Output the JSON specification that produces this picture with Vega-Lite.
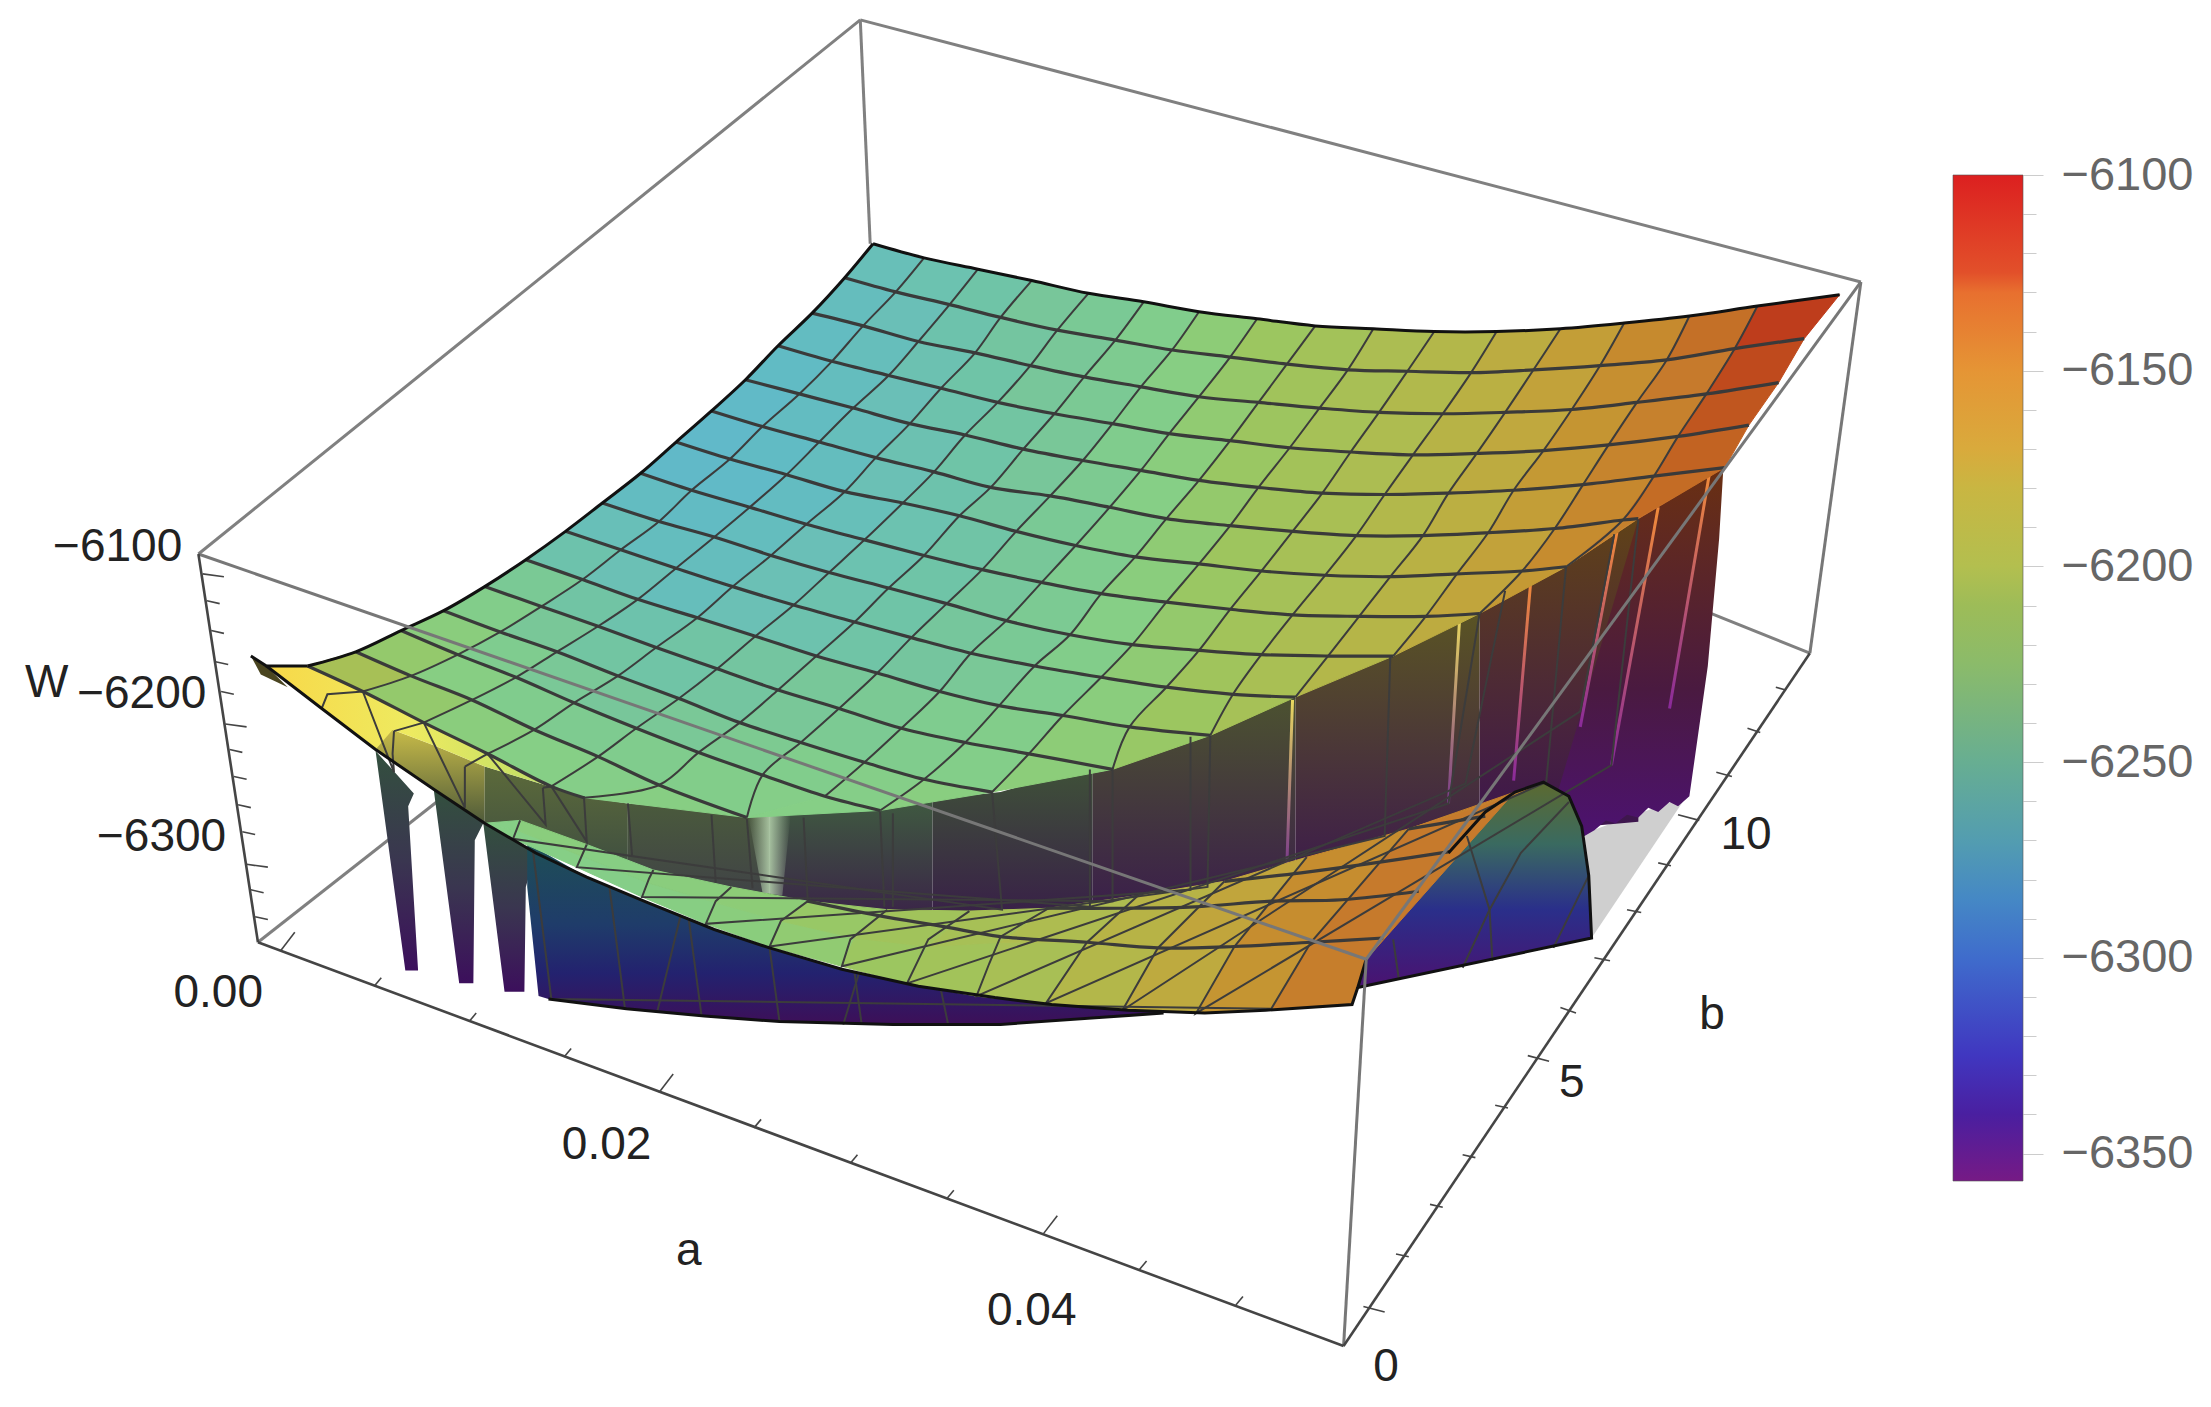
{
"$schema":"https://vega.github.io/schema/vega-lite/v6.json",
"description":"Surface W(a,b) read off the picture as projected positions, with a colour bar.",
"padding":0,
"background":"white",
"spacing":0,
"config":{"view":{"stroke":null},"text":{"font":"Liberation Sans"}},
"resolve":{"scale":{"fill":"independent","stroke":"independent"}},
"datasets":{
"top":[
{"id":0,"r":0,"c":0,"x":616,"y":172,"W":-6258,"q":[0,1,101,100]},{"id":1,"r":0,"c":1,"x":652,"y":182,"W":-6252,"q":[1,2,102,101]},{"id":2,"r":0,"c":2,"x":690,"y":190,"W":-6247,"q":[2,3,103,102]},{"id":3,"r":0,"c":3,"x":728,"y":198,"W":-6240,"q":[3,4,104,103]},{"id":4,"r":0,"c":4,"x":768,"y":207,"W":-6236,"q":[4,5,105,104]},{"id":5,"r":0,"c":5,"x":807,"y":213,"W":-6229,"q":[5,6,106,105]},{"id":6,"r":0,"c":6,"x":846,"y":220,"W":-6220,"q":[6,7,107,106]},{"id":7,"r":0,"c":7,"x":887,"y":225,"W":-6212,"q":[7,8,108,107]},{"id":8,"r":0,"c":8,"x":928,"y":230,"W":-6206,"q":[8,9,109,108]},{"id":9,"r":0,"c":9,"x":969,"y":232,"W":-6199,"q":[9,10,110,109]},{"id":10,"r":0,"c":10,"x":1012,"y":234,"W":-6192,"q":[10,11,111,110]},{"id":11,"r":0,"c":11,"x":1056,"y":234,"W":-6182,"q":[11,12,112,111]},{"id":12,"r":0,"c":12,"x":1101,"y":232,"W":-6171,"q":[12,13,113,112]},{"id":13,"r":0,"c":13,"x":1146,"y":228,"W":-6157,"q":[13,14,114,113]},{"id":14,"r":0,"c":14,"x":1192,"y":223,"W":-6140,"q":[14,15,115,114]},{"id":15,"r":0,"c":15,"x":1240,"y":216,"W":-6116,"q":[15,16,116,115]},{"id":16,"r":0,"c":16,"x":1298,"y":208,"q":[]},
{"id":100,"r":1,"c":0,"x":596,"y":196,"W":-6262,"q":[100,101,201,200]},{"id":101,"r":1,"c":1,"x":632,"y":206,"W":-6257,"q":[101,102,202,201]},{"id":102,"r":1,"c":2,"x":670,"y":215,"W":-6250,"q":[102,103,203,202]},{"id":103,"r":1,"c":3,"x":706,"y":224,"W":-6243,"q":[103,104,204,203]},{"id":104,"r":1,"c":4,"x":746,"y":233,"W":-6238,"q":[104,105,205,204]},{"id":105,"r":1,"c":5,"x":787,"y":240,"W":-6232,"q":[105,106,206,205]},{"id":106,"r":1,"c":6,"x":827,"y":247,"W":-6224,"q":[106,107,207,206]},{"id":107,"r":1,"c":7,"x":868,"y":252,"W":-6215,"q":[107,108,208,207]},{"id":108,"r":1,"c":8,"x":908,"y":257,"W":-6208,"q":[108,109,209,208]},{"id":109,"r":1,"c":9,"x":951,"y":261,"W":-6202,"q":[109,110,210,209]},{"id":110,"r":1,"c":10,"x":993,"y":262,"W":-6194,"q":[110,111,211,210]},{"id":111,"r":1,"c":11,"x":1038,"y":263,"W":-6185,"q":[111,112,212,211]},{"id":112,"r":1,"c":12,"x":1082,"y":261,"W":-6174,"q":[112,113,213,212]},{"id":113,"r":1,"c":13,"x":1129,"y":258,"W":-6161,"q":[113,114,214,213]},{"id":114,"r":1,"c":14,"x":1176,"y":254,"W":-6145,"q":[114,115,215,214]},{"id":115,"r":1,"c":15,"x":1224,"y":246,"W":-6122,"q":[115,116,216,215]},{"id":116,"r":1,"c":16,"x":1273,"y":239,"q":[]},
{"id":200,"r":2,"c":0,"x":573,"y":221,"W":-6265,"q":[200,201,301,300]},{"id":201,"r":2,"c":1,"x":609,"y":230,"W":-6260,"q":[201,202,302,301]},{"id":202,"r":2,"c":2,"x":648,"y":241,"W":-6253,"q":[202,203,303,302]},{"id":203,"r":2,"c":3,"x":688,"y":249,"W":-6247,"q":[203,204,304,303]},{"id":204,"r":2,"c":4,"x":727,"y":258,"W":-6240,"q":[204,205,305,304]},{"id":205,"r":2,"c":5,"x":765,"y":266,"W":-6235,"q":[205,206,306,305]},{"id":206,"r":2,"c":6,"x":805,"y":273,"W":-6228,"q":[206,207,307,306]},{"id":207,"r":2,"c":7,"x":846,"y":280,"W":-6218,"q":[207,208,308,307]},{"id":208,"r":2,"c":8,"x":888,"y":284,"W":-6211,"q":[208,209,309,308]},{"id":209,"r":2,"c":9,"x":931,"y":288,"W":-6204,"q":[209,210,310,309]},{"id":210,"r":2,"c":10,"x":973,"y":291,"W":-6197,"q":[210,211,311,310]},{"id":211,"r":2,"c":11,"x":1018,"y":292,"W":-6188,"q":[211,212,312,311]},{"id":212,"r":2,"c":12,"x":1062,"y":291,"W":-6178,"q":[212,213,313,312]},{"id":213,"r":2,"c":13,"x":1109,"y":289,"W":-6165,"q":[213,214,314,313]},{"id":214,"r":2,"c":14,"x":1155,"y":284,"W":-6150,"q":[214,215,315,314]},{"id":215,"r":2,"c":15,"x":1204,"y":278,"W":-6128,"q":[215,216,316,315]},{"id":216,"r":2,"c":16,"x":1255,"y":270,"q":[]},
{"id":300,"r":3,"c":0,"x":549,"y":244,"W":-6268,"q":[300,301,401,400]},{"id":301,"r":3,"c":1,"x":587,"y":255,"W":-6263,"q":[301,302,402,401]},{"id":302,"r":3,"c":2,"x":627,"y":265,"W":-6257,"q":[302,303,403,402]},{"id":303,"r":3,"c":3,"x":664,"y":274,"W":-6250,"q":[303,304,404,403]},{"id":304,"r":3,"c":4,"x":704,"y":284,"W":-6244,"q":[304,305,405,404]},{"id":305,"r":3,"c":5,"x":744,"y":292,"W":-6238,"q":[305,306,406,405]},{"id":306,"r":3,"c":6,"x":785,"y":299,"W":-6230,"q":[306,307,407,406]},{"id":307,"r":3,"c":7,"x":825,"y":306,"W":-6222,"q":[307,308,408,407]},{"id":308,"r":3,"c":8,"x":868,"y":311,"W":-6213,"q":[308,309,409,408]},{"id":309,"r":3,"c":9,"x":910,"y":316,"W":-6206,"q":[309,310,410,409]},{"id":310,"r":3,"c":10,"x":953,"y":319,"W":-6199,"q":[310,311,411,410]},{"id":311,"r":3,"c":11,"x":997,"y":321,"W":-6191,"q":[311,312,412,411]},{"id":312,"r":3,"c":12,"x":1042,"y":320,"W":-6181,"q":[312,313,413,412]},{"id":313,"r":3,"c":13,"x":1089,"y":318,"W":-6168,"q":[313,314,414,413]},{"id":314,"r":3,"c":14,"x":1135,"y":314,"W":-6153,"q":[314,315,415,414]},{"id":315,"r":3,"c":15,"x":1184,"y":308,"W":-6134,"q":[315,316,416,415]},{"id":316,"r":3,"c":16,"x":1234,"y":300,"q":[]},
{"id":400,"r":4,"c":0,"x":526,"y":268,"W":-6270,"q":[400,401,501,500]},{"id":401,"r":4,"c":1,"x":564,"y":278,"W":-6265,"q":[401,402,502,501]},{"id":402,"r":4,"c":2,"x":602,"y":288,"W":-6260,"q":[402,403,503,502]},{"id":403,"r":4,"c":3,"x":642,"y":299,"W":-6253,"q":[403,404,504,503]},{"id":404,"r":4,"c":4,"x":681,"y":307,"W":-6247,"q":[404,405,505,504]},{"id":405,"r":4,"c":5,"x":722,"y":317,"W":-6240,"q":[405,406,506,505]},{"id":406,"r":4,"c":6,"x":764,"y":325,"W":-6233,"q":[406,407,507,506]},{"id":407,"r":4,"c":7,"x":805,"y":332,"W":-6225,"q":[407,408,508,507]},{"id":408,"r":4,"c":8,"x":846,"y":339,"W":-6216,"q":[408,409,509,508]},{"id":409,"r":4,"c":9,"x":888,"y":344,"W":-6208,"q":[409,410,510,509]},{"id":410,"r":4,"c":10,"x":933,"y":348,"W":-6201,"q":[410,411,511,510]},{"id":411,"r":4,"c":11,"x":977,"y":349,"W":-6193,"q":[411,412,512,511]},{"id":412,"r":4,"c":12,"x":1022,"y":348,"W":-6184,"q":[412,413,513,512]},{"id":413,"r":4,"c":13,"x":1068,"y":346,"W":-6171,"q":[413,414,514,513]},{"id":414,"r":4,"c":14,"x":1117,"y":342,"W":-6156,"q":[414,415,515,514]},{"id":415,"r":4,"c":15,"x":1167,"y":336,"W":-6138,"q":[415,416,516,515]},{"id":416,"r":4,"c":16,"x":1217,"y":330,"q":[]},
{"id":500,"r":5,"c":0,"x":502,"y":290,"W":-6272,"q":[500,501,601,600]},{"id":501,"r":5,"c":1,"x":538,"y":301,"W":-6268,"q":[501,502,602,601]},{"id":502,"r":5,"c":2,"x":578,"y":312,"W":-6263,"q":[502,503,603,602]},{"id":503,"r":5,"c":3,"x":618,"y":323,"W":-6256,"q":[503,504,604,603]},{"id":504,"r":5,"c":4,"x":659,"y":333,"W":-6250,"q":[504,505,605,604]},{"id":505,"r":5,"c":5,"x":699,"y":344,"W":-6243,"q":[505,506,606,605]},{"id":506,"r":5,"c":6,"x":741,"y":350,"W":-6236,"q":[506,507,607,606]},{"id":507,"r":5,"c":7,"x":783,"y":358,"W":-6228,"q":[507,508,608,607]},{"id":508,"r":5,"c":8,"x":823,"y":366,"W":-6219,"q":[508,509,609,608]},{"id":509,"r":5,"c":9,"x":868,"y":371,"W":-6210,"q":[509,510,610,609]},{"id":510,"r":5,"c":10,"x":912,"y":375,"W":-6203,"q":[510,511,611,610]},{"id":511,"r":5,"c":11,"x":957,"y":378,"W":-6195,"q":[511,512,612,611]},{"id":512,"r":5,"c":12,"x":1004,"y":378,"W":-6186,"q":[512,513,613,612]},{"id":513,"r":5,"c":13,"x":1050,"y":376,"W":-6174,"q":[513,514,614,613]},{"id":514,"r":5,"c":14,"x":1097,"y":373,"W":-6159,"q":[514,515,615,614]},{"id":515,"r":5,"c":15,"x":1145,"y":367,"W":-6150,"q":[515,516,615]},{"id":516,"r":5,"c":16,"x":1156,"y":366,"q":[]},
{"id":600,"r":6,"c":0,"x":477,"y":312,"W":-6271,"q":[600,601,701,700]},{"id":601,"r":6,"c":1,"x":515,"y":324,"W":-6270,"q":[601,602,702,701]},{"id":602,"r":6,"c":2,"x":555,"y":335,"W":-6265,"q":[602,603,703,702]},{"id":603,"r":6,"c":3,"x":596,"y":347,"W":-6259,"q":[603,604,704,703]},{"id":604,"r":6,"c":4,"x":637,"y":355,"W":-6252,"q":[604,605,705,704]},{"id":605,"r":6,"c":5,"x":677,"y":364,"W":-6246,"q":[605,606,706,705]},{"id":606,"r":6,"c":6,"x":717,"y":375,"W":-6239,"q":[606,607,707,706]},{"id":607,"r":6,"c":7,"x":759,"y":385,"W":-6231,"q":[607,608,708,707]},{"id":608,"r":6,"c":8,"x":801,"y":393,"W":-6222,"q":[608,609,709,708]},{"id":609,"r":6,"c":9,"x":846,"y":398,"W":-6213,"q":[609,610,710,709]},{"id":610,"r":6,"c":10,"x":890,"y":403,"W":-6205,"q":[610,611,711,710]},{"id":611,"r":6,"c":11,"x":935,"y":406,"W":-6197,"q":[611,612,712,711]},{"id":612,"r":6,"c":12,"x":981,"y":407,"W":-6188,"q":[612,613,713,712]},{"id":613,"r":6,"c":13,"x":1028,"y":405,"W":-6176,"q":[613,614,714,713]},{"id":614,"r":6,"c":14,"x":1074,"y":403,"W":-6168,"q":[614,615,714]},{"id":615,"r":6,"c":15,"x":1105,"y":400,"q":[]},
{"id":700,"r":7,"c":0,"x":452,"y":334,"W":-6265,"q":[700,701,801,800]},{"id":701,"r":7,"c":1,"x":488,"y":346,"W":-6267,"q":[701,702,802,801]},{"id":702,"r":7,"c":2,"x":529,"y":358,"W":-6263,"q":[702,703,803,802]},{"id":703,"r":7,"c":3,"x":569,"y":370,"W":-6257,"q":[703,704,804,803]},{"id":704,"r":7,"c":4,"x":610,"y":381,"W":-6252,"q":[704,705,805,804]},{"id":705,"r":7,"c":5,"x":652,"y":392,"W":-6247,"q":[705,706,806,805]},{"id":706,"r":7,"c":6,"x":693,"y":402,"W":-6241,"q":[706,707,807,806]},{"id":707,"r":7,"c":7,"x":735,"y":411,"W":-6234,"q":[707,708,808,807]},{"id":708,"r":7,"c":8,"x":777,"y":419,"W":-6225,"q":[708,709,809,808]},{"id":709,"r":7,"c":9,"x":823,"y":425,"W":-6216,"q":[709,710,810,809]},{"id":710,"r":7,"c":10,"x":868,"y":430,"W":-6207,"q":[710,711,811,810]},{"id":711,"r":7,"c":11,"x":912,"y":434,"W":-6199,"q":[711,712,812,811]},{"id":712,"r":7,"c":12,"x":959,"y":435,"W":-6190,"q":[712,713,813,812]},{"id":713,"r":7,"c":13,"x":1006,"y":435,"W":-6181,"q":[713,714,813]},{"id":714,"r":7,"c":14,"x":1044,"y":433,"q":[]},
{"id":800,"r":8,"c":0,"x":425,"y":355,"W":-6258,"q":[800,801,901,900]},{"id":801,"r":8,"c":1,"x":465,"y":368,"W":-6263,"q":[801,802,902,901]},{"id":802,"r":8,"c":2,"x":504,"y":379,"W":-6262,"q":[802,803,903,902]},{"id":803,"r":8,"c":3,"x":544,"y":392,"W":-6256,"q":[803,804,904,903]},{"id":804,"r":8,"c":4,"x":585,"y":404,"W":-6251,"q":[804,805,905,904]},{"id":805,"r":8,"c":5,"x":627,"y":415,"W":-6247,"q":[805,806,906,905]},{"id":806,"r":8,"c":6,"x":668,"y":426,"W":-6241,"q":[806,807,907,906]},{"id":807,"r":8,"c":7,"x":710,"y":438,"W":-6236,"q":[807,808,908,907]},{"id":808,"r":8,"c":8,"x":755,"y":448,"W":-6228,"q":[808,809,909,908]},{"id":809,"r":8,"c":9,"x":799,"y":455,"W":-6219,"q":[809,810,910,909]},{"id":810,"r":8,"c":10,"x":846,"y":459,"W":-6209,"q":[810,811,911,910]},{"id":811,"r":8,"c":11,"x":890,"y":462,"W":-6201,"q":[811,812,912,911]},{"id":812,"r":8,"c":12,"x":937,"y":463,"W":-6192,"q":[812,813,912]},{"id":813,"r":8,"c":13,"x":983,"y":463,"q":[]},
{"id":900,"r":9,"c":0,"x":399,"y":375,"W":-6250,"q":[900,901,1001,1000]},{"id":901,"r":9,"c":1,"x":438,"y":388,"W":-6256,"q":[901,902,1002,1001]},{"id":902,"r":9,"c":2,"x":477,"y":401,"W":-6260,"q":[902,903,1003,1002]},{"id":903,"r":9,"c":3,"x":517,"y":414,"W":-6256,"q":[903,904,1004,1003]},{"id":904,"r":9,"c":4,"x":560,"y":427,"W":-6251,"q":[904,905,1005,1004]},{"id":905,"r":9,"c":5,"x":603,"y":439,"W":-6246,"q":[905,906,1006,1005]},{"id":906,"r":9,"c":6,"x":643,"y":450,"W":-6242,"q":[906,907,1007,1006]},{"id":907,"r":9,"c":7,"x":685,"y":461,"W":-6237,"q":[907,908,1008,1007]},{"id":908,"r":9,"c":8,"x":730,"y":470,"W":-6231,"q":[908,909,1009,1008]},{"id":909,"r":9,"c":9,"x":777,"y":478,"W":-6222,"q":[909,910,1010,1009]},{"id":910,"r":9,"c":10,"x":823,"y":485,"W":-6212,"q":[910,911,1011,1010]},{"id":911,"r":9,"c":11,"x":870,"y":490,"W":-6204,"q":[911,912,1011]},{"id":912,"r":9,"c":12,"x":914,"y":492,"q":[]},
{"id":1000,"r":10,"c":0,"x":371,"y":395,"W":-6236,"q":[1000,1001,1101,1100]},{"id":1001,"r":10,"c":1,"x":411,"y":409,"W":-6245,"q":[1001,1002,1102,1101]},{"id":1002,"r":10,"c":2,"x":450,"y":423,"W":-6250,"q":[1002,1003,1103,1102]},{"id":1003,"r":10,"c":3,"x":492,"y":436,"W":-6245,"q":[1003,1004,1104,1103]},{"id":1004,"r":10,"c":4,"x":533,"y":449,"W":-6243,"q":[1004,1005,1105,1104]},{"id":1005,"r":10,"c":5,"x":576,"y":463,"W":-6239,"q":[1005,1006,1106,1105]},{"id":1006,"r":10,"c":6,"x":619,"y":475,"W":-6235,"q":[1006,1007,1107,1106]},{"id":1007,"r":10,"c":7,"x":663,"y":488,"W":-6231,"q":[1007,1008,1108,1107]},{"id":1008,"r":10,"c":8,"x":705,"y":498,"W":-6228,"q":[1008,1009,1109,1108]},{"id":1009,"r":10,"c":9,"x":750,"y":505,"W":-6220,"q":[1009,1010,1110,1109]},{"id":1010,"r":10,"c":10,"x":797,"y":513,"W":-6214,"q":[1010,1011,1110]},{"id":1011,"r":10,"c":11,"x":854,"y":519,"q":[]},
{"id":1100,"r":11,"c":0,"x":342,"y":414,"W":-6228,"q":[1100,1101,1201,1200]},{"id":1101,"r":11,"c":1,"x":382,"y":428,"W":-6238,"q":[1101,1102,1202,1201]},{"id":1102,"r":11,"c":2,"x":422,"y":442,"W":-6244,"q":[1102,1103,1203,1202]},{"id":1103,"r":11,"c":3,"x":463,"y":457,"W":-6246,"q":[1103,1104,1204,1203]},{"id":1104,"r":11,"c":4,"x":506,"y":472,"W":-6243,"q":[1104,1105,1205,1204]},{"id":1105,"r":11,"c":5,"x":549,"y":487,"W":-6238,"q":[1105,1106,1206,1205]},{"id":1106,"r":11,"c":6,"x":592,"y":500,"W":-6234,"q":[1106,1107,1207,1206]},{"id":1107,"r":11,"c":7,"x":636,"y":514,"W":-6230,"q":[1107,1108,1208,1207]},{"id":1108,"r":11,"c":8,"x":681,"y":524,"W":-6227,"q":[1108,1109,1209,1208]},{"id":1109,"r":11,"c":9,"x":726,"y":532,"W":-6221,"q":[1109,1110,1209]},{"id":1110,"r":11,"c":10,"x":785,"y":543,"q":[]},
{"id":1200,"r":12,"c":0,"x":313,"y":431,"W":-6222,"q":[1200,1201,1301,1300]},{"id":1201,"r":12,"c":1,"x":353,"y":446,"W":-6231,"q":[1201,1202,1302,1301]},{"id":1202,"r":12,"c":2,"x":393,"y":460,"W":-6237,"q":[1202,1203,1303,1302]},{"id":1203,"r":12,"c":3,"x":436,"y":477,"W":-6240,"q":[1203,1204,1304,1303]},{"id":1204,"r":12,"c":4,"x":479,"y":493,"W":-6237,"q":[1204,1205,1305,1304]},{"id":1205,"r":12,"c":5,"x":522,"y":510,"W":-6233,"q":[1205,1206,1306,1305]},{"id":1206,"r":12,"c":6,"x":565,"y":524,"W":-6229,"q":[1206,1207,1307,1306]},{"id":1207,"r":12,"c":7,"x":610,"y":538,"W":-6226,"q":[1207,1208,1308,1307]},{"id":1208,"r":12,"c":8,"x":652,"y":550,"W":-6223,"q":[1208,1209,1308]},{"id":1209,"r":12,"c":9,"x":700,"y":559,"q":[]},
{"id":1300,"r":13,"c":0,"x":283,"y":445,"W":-6216,"q":[1300,1301,1401,1400]},{"id":1301,"r":13,"c":1,"x":323,"y":462,"W":-6224,"q":[1301,1302,1402,1401]},{"id":1302,"r":13,"c":2,"x":364,"y":478,"W":-6230,"q":[1302,1303,1403,1402]},{"id":1303,"r":13,"c":3,"x":405,"y":496,"W":-6232,"q":[1303,1304,1404,1403]},{"id":1304,"r":13,"c":4,"x":449,"y":514,"W":-6230,"q":[1304,1305,1405,1404]},{"id":1305,"r":13,"c":5,"x":493,"y":531,"W":-6228,"q":[1305,1306,1406,1405]},{"id":1306,"r":13,"c":6,"x":538,"y":547,"W":-6226,"q":[1306,1307,1406]},{"id":1307,"r":13,"c":7,"x":582,"y":562,"W":-6225,"q":[1307,1308,1406]},{"id":1308,"r":13,"c":8,"x":621,"y":572,"q":[]},
{"id":1400,"r":14,"c":0,"x":251,"y":460,"W":-6203,"q":[1400,1401,1501,1500]},{"id":1401,"r":14,"c":1,"x":290,"y":477,"W":-6216,"q":[1401,1402,1502,1501]},{"id":1402,"r":14,"c":2,"x":333,"y":494,"W":-6222,"q":[1402,1403,1503,1502]},{"id":1403,"r":14,"c":3,"x":377,"y":515,"W":-6225,"q":[1403,1404,1504,1503]},{"id":1404,"r":14,"c":4,"x":422,"y":534,"W":-6226,"q":[1404,1405,1505,1504]},{"id":1405,"r":14,"c":5,"x":465,"y":554,"W":-6224,"q":[1405,1406,1505]},{"id":1406,"r":14,"c":6,"x":527,"y":577,"q":[]},
{"id":1500,"r":15,"c":0,"x":217,"y":470,"q":[]},{"id":1501,"r":15,"c":1,"x":256,"y":488,"q":[]},{"id":1502,"r":15,"c":2,"x":299,"y":510,"q":[]},{"id":1503,"r":15,"c":3,"x":344,"y":532,"q":[]},{"id":1504,"r":15,"c":4,"x":389,"y":555,"q":[]},{"id":1505,"r":15,"c":5,"x":412,"y":563,"q":[]}
],
"lip":[
{"id":0,"x":342,"y":581,"W":-6225,"q":[0,1,101,100]},{"id":1,"x":362,"y":592,"W":-6225,"q":[1,2,102,101]},{"id":2,"x":407,"y":612,"W":-6226,"q":[2,3,103,102]},{"id":3,"x":453,"y":633,"W":-6224,"q":[3,4,104,103]},{"id":4,"x":498,"y":652,"W":-6222,"q":[4,5,105,104]},{"id":5,"x":543,"y":668,"W":-6218,"q":[5,6,106,105]},{"id":6,"x":594,"y":682,"W":-6212,"q":[6,7,107,106]},{"id":7,"x":640,"y":694,"W":-6207,"q":[7,8,108,107]},{"id":8,"x":689,"y":703,"W":-6202,"q":[8,9,109,108]},{"id":9,"x":738,"y":708,"W":-6192,"q":[9,10,110,109]},{"id":10,"x":792,"y":713,"W":-6180,"q":[10,11,111,110]},{"id":11,"x":844,"y":715,"W":-6165,"q":[11,12,112,111]},{"id":12,"x":897,"y":712,"W":-6148,"q":[12,13,113,112]},{"id":13,"x":954,"y":709,"q":[]},
{"id":100,"x":342,"y":581,"W":-6225,"q":[100,101,201,200]},{"id":101,"x":365,"y":586,"W":-6222,"q":[101,102,202,201]},{"id":102,"x":410,"y":604,"W":-6224,"q":[102,103,203,202]},{"id":103,"x":457,"y":623,"W":-6222,"q":[103,104,204,203]},{"id":104,"x":505,"y":637,"W":-6220,"q":[104,105,205,204]},{"id":105,"x":551,"y":650,"W":-6214,"q":[105,106,206,205]},{"id":106,"x":603,"y":662,"W":-6208,"q":[106,107,207,206]},{"id":107,"x":655,"y":668,"W":-6203,"q":[107,108,208,207]},{"id":108,"x":706,"y":665,"W":-6197,"q":[108,109,209,208]},{"id":109,"x":767,"y":665,"W":-6188,"q":[109,110,210,209]},{"id":110,"x":817,"y":669,"W":-6176,"q":[110,111,211,210]},{"id":111,"x":871,"y":668,"W":-6160,"q":[111,112,212,211]},{"id":112,"x":925,"y":665,"W":-6145,"q":[112,113,213,212]},{"id":113,"x":964,"y":677,"q":[]},
{"id":200,"x":342,"y":581,"q":[]},{"id":201,"x":367,"y":579,"q":[]},{"id":202,"x":414,"y":596,"q":[]},{"id":203,"x":461,"y":614,"q":[]},{"id":204,"x":516,"y":626,"q":[]},{"id":205,"x":570,"y":636,"q":[]},{"id":206,"x":626,"y":642,"q":[]},{"id":207,"x":684,"y":643,"q":[]},{"id":208,"x":740,"y":641,"q":[]},{"id":209,"x":803,"y":632,"q":[]},{"id":210,"x":864,"y":622,"q":[]},{"id":211,"x":922,"y":605,"q":[]},{"id":212,"x":994,"y":585,"q":[]},{"id":213,"x":1066,"y":562,"q":[]},
{"id":300,"x":1089,"y":552,"W":-6150,"q":[300,213,212]}
],
"parts":[
{"p":"floor","x":1118,"y":588},{"p":"floor","x":1190,"y":562},{"p":"floor","x":1123,"y":662},
{"p":"s1","x":266,"y":506},{"p":"s1","x":277,"y":515},{"p":"s1","x":306,"y":526},{"p":"s1","x":342,"y":541},{"p":"s1","x":342,"y":581},{"p":"s1","x":306,"y":557},{"p":"s1","x":265,"y":529},
{"p":"s2","x":342,"y":541},{"p":"s2","x":381,"y":553},{"p":"s2","x":410,"y":562},{"p":"s2","x":443,"y":567},{"p":"s2","x":443,"y":625},{"p":"s2","x":414,"y":610},{"p":"s2","x":367,"y":585},{"p":"s2","x":342,"y":581},
{"p":"s3","x":443,"y":567},{"p":"s3","x":504,"y":572},{"p":"s3","x":543,"y":574},{"p":"s3","x":543,"y":640},{"p":"s3","x":443,"y":625},
{"p":"s4","x":543,"y":574},{"p":"s4","x":619,"y":569},{"p":"s4","x":658,"y":564},{"p":"s4","x":658,"y":650},{"p":"s4","x":543,"y":640},
{"p":"s5","x":658,"y":564},{"p":"s5","x":706,"y":559},{"p":"s5","x":771,"y":540},{"p":"s5","x":771,"y":650},{"p":"s5","x":658,"y":650},
{"p":"s6","x":771,"y":540},{"p":"s6","x":846,"y":516},{"p":"s6","x":914,"y":492},{"p":"s6","x":914,"y":625},{"p":"s6","x":771,"y":650},
{"p":"s7","x":914,"y":492},{"p":"s7","x":985,"y":459},{"p":"s7","x":1044,"y":432},{"p":"s7","x":1044,"y":590},{"p":"s7","x":914,"y":625},
{"p":"s8","x":1044,"y":432},{"p":"s8","x":1105,"y":400},{"p":"s8","x":1156,"y":366},{"p":"s8","x":1156,"y":580},{"p":"s8","x":1044,"y":590},
{"p":"s9","x":1156,"y":366},{"p":"s9","x":1216,"y":330},{"p":"s9","x":1213,"y":380},{"p":"s9","x":1205,"y":470},{"p":"s9","x":1192,"y":562},{"p":"s9","x":1184,"y":569},{"p":"s9","x":1178,"y":566},{"p":"s9","x":1170,"y":573},{"p":"s9","x":1163,"y":570},{"p":"s9","x":1156,"y":577},{"p":"s9","x":1148,"y":575},{"p":"s9","x":1140,"y":581},{"p":"s9","x":1133,"y":579},{"p":"s9","x":1125,"y":586},{"p":"s9","x":1118,"y":590},{"p":"s9","x":1090,"y":590},
{"p":"pale","x":528,"y":576},{"p":"pale","x":558,"y":574},{"p":"pale","x":552,"y":632},{"p":"pale","x":538,"y":630},
{"p":"front","x":372,"y":595},{"p":"front","x":414,"y":619},{"p":"front","x":457,"y":637},{"p":"front","x":504,"y":656},{"p":"front","x":543,"y":669},{"p":"front","x":594,"y":684},{"p":"front","x":648,"y":696},{"p":"front","x":702,"y":704},{"p":"front","x":742,"y":709},{"p":"front","x":796,"y":713},{"p":"front","x":850,"y":715},{"p":"front","x":893,"y":713},{"p":"front","x":821,"y":715},{"p":"front","x":778,"y":718},{"p":"front","x":706,"y":723},{"p":"front","x":630,"y":723},{"p":"front","x":550,"y":721},{"p":"front","x":497,"y":717},{"p":"front","x":442,"y":712},{"p":"front","x":387,"y":705},{"p":"front","x":380,"y":703},{"p":"front","x":372,"y":626},
{"p":"fang1","x":265,"y":530},{"p":"fang1","x":292,"y":560},{"p":"fang1","x":288,"y":569},{"p":"fang1","x":295,"y":685},{"p":"fang1","x":286,"y":685},
{"p":"fang2","x":306,"y":557},{"p":"fang2","x":341,"y":581},{"p":"fang2","x":335,"y":593},{"p":"fang2","x":334,"y":694},{"p":"fang2","x":324,"y":694},
{"p":"fang3","x":341,"y":581},{"p":"fang3","x":378,"y":602},{"p":"fang3","x":371,"y":626},{"p":"fang3","x":370,"y":700},{"p":"fang3","x":356,"y":700},
{"p":"hill","x":964,"y":677},{"p":"hill","x":1022,"y":602},{"p":"hill","x":1048,"y":573},{"p":"hill","x":1069,"y":559},{"p":"hill","x":1089,"y":552},{"p":"hill","x":1107,"y":562},{"p":"hill","x":1116,"y":583},{"p":"hill","x":1121,"y":618},{"p":"hill","x":1123,"y":662},{"p":"hill","x":958,"y":697},
{"p":"tip","x":188,"y":470},{"p":"tip","x":217,"y":470},{"p":"tip","x":256,"y":488},{"p":"tip","x":299,"y":510},{"p":"tip","x":344,"y":532},{"p":"tip","x":389,"y":555},{"p":"tip","x":412,"y":563},{"p":"tip","x":381,"y":553},{"p":"tip","x":342,"y":541},{"p":"tip","x":306,"y":526},{"p":"tip","x":277,"y":515},{"p":"tip","x":265,"y":529},{"p":"tip","x":227,"y":500},
{"p":"notch","x":177,"y":463},{"p":"notch","x":188,"y":470},{"p":"notch","x":203,"y":485},{"p":"notch","x":184,"y":476}
],
"lines":[
{"g":"drop","k":1,"x":278,"y":516},{"g":"drop","k":1,"x":277,"y":532},{"g":"drop","k":1,"x":278,"y":545},
{"g":"drop","k":2,"x":328,"y":541},{"g":"drop","k":2,"x":328,"y":570},
{"g":"drop","k":3,"x":383,"y":556},{"g":"drop","k":3,"x":385,"y":582},
{"g":"drop","k":4,"x":412,"y":562},{"g":"drop","k":4,"x":414,"y":594},
{"g":"drop","k":5,"x":443,"y":567},{"g":"drop","k":5,"x":446,"y":604},
{"g":"drop","k":6,"x":502,"y":575},{"g":"drop","k":6,"x":505,"y":623},
{"g":"drop","k":7,"x":527,"y":578},{"g":"drop","k":7,"x":531,"y":627},
{"g":"drop","k":8,"x":567,"y":577},{"g":"drop","k":8,"x":570,"y":637},
{"g":"drop","k":9,"x":621,"y":573},{"g":"drop","k":9,"x":624,"y":640},
{"g":"drop","k":10,"x":630,"y":574},{"g":"drop","k":10,"x":630,"y":640},
{"g":"drop","k":11,"x":700,"y":559},{"g":"drop","k":11,"x":707,"y":642},
{"g":"drop","k":12,"x":769,"y":543},{"g":"drop","k":12,"x":769,"y":640},
{"g":"drop","k":13,"x":785,"y":542},{"g":"drop","k":13,"x":785,"y":636},
{"g":"drop","k":14,"x":840,"y":520},{"g":"drop","k":14,"x":840,"y":628},
{"g":"drop","k":15,"x":854,"y":519},{"g":"drop","k":15,"x":852,"y":626},
{"g":"drop","k":16,"x":981,"y":463},{"g":"drop","k":16,"x":977,"y":590},
{"g":"drop","k":17,"x":1044,"y":433},{"g":"drop","k":17,"x":1022,"y":567},
{"g":"drop","k":18,"x":1062,"y":417},{"g":"drop","k":18,"x":1034,"y":553},
{"g":"drop","k":19,"x":1105,"y":400},{"g":"drop","k":19,"x":1091,"y":552},
{"g":"drop","k":20,"x":1139,"y":377},{"g":"drop","k":20,"x":1115,"y":502},
{"g":"drop","k":21,"x":1156,"y":367},{"g":"drop","k":21,"x":1137,"y":540},
{"g":"drop","k":22,"x":376,"y":600},{"g":"drop","k":22,"x":389,"y":705},
{"g":"drop","k":23,"x":430,"y":626},{"g":"drop","k":23,"x":441,"y":712},
{"g":"drop","k":24,"x":480,"y":647},{"g":"drop","k":24,"x":464,"y":713},
{"g":"drop","k":25,"x":486,"y":649},{"g":"drop","k":25,"x":495,"y":717},
{"g":"drop","k":26,"x":543,"y":669},{"g":"drop","k":26,"x":550,"y":721},
{"g":"drop","k":27,"x":606,"y":687},{"g":"drop","k":27,"x":595,"y":723},
{"g":"drop","k":28,"x":603,"y":687},{"g":"drop","k":28,"x":608,"y":723},
{"g":"drop","k":29,"x":664,"y":699},{"g":"drop","k":29,"x":669,"y":723},
{"g":"drop","k":30,"x":1035,"y":590},{"g":"drop","k":30,"x":1051,"y":642},{"g":"drop","k":30,"x":1053,"y":678},
{"g":"drop","k":31,"x":1107,"y":566},{"g":"drop","k":31,"x":1073,"y":602},{"g":"drop","k":31,"x":1051,"y":642},{"g":"drop","k":31,"x":1032,"y":683},
{"g":"drop","k":32,"x":1121,"y":618},{"g":"drop","k":32,"x":1096,"y":669},
{"g":"drop","k":33,"x":983,"y":663},{"g":"drop","k":33,"x":987,"y":691},
{"g":"paleline","k":1,"x":912,"y":494},{"g":"paleline","k":1,"x":908,"y":610},
{"g":"paleline","k":2,"x":1030,"y":435},{"g":"paleline","k":2,"x":1022,"y":567},
{"g":"hotline","k":3,"x":1080,"y":411},{"g":"hotline","k":3,"x":1068,"y":551},
{"g":"hotline","k":4,"x":1141,"y":375},{"g":"hotline","k":4,"x":1115,"y":513},
{"g":"hotline","k":5,"x":1170,"y":358},{"g":"hotline","k":5,"x":1137,"y":540},
{"g":"hotline","k":6,"x":1206,"y":335},{"g":"hotline","k":6,"x":1178,"y":500},
{"g":"mesh","k":1,"x":256,"y":488},{"g":"mesh","k":1,"x":231,"y":490},{"g":"mesh","k":1,"x":227,"y":500},
{"g":"mesh","k":2,"x":299,"y":510},{"g":"mesh","k":2,"x":278,"y":516},
{"g":"mesh","k":3,"x":344,"y":532},{"g":"mesh","k":3,"x":328,"y":541},
{"g":"mesh","k":4,"x":389,"y":555},{"g":"mesh","k":4,"x":383,"y":556},
{"g":"mesh","k":11,"x":362,"y":592},{"g":"mesh","k":11,"x":367,"y":579},
{"g":"mesh","k":12,"x":407,"y":612},{"g":"mesh","k":12,"x":414,"y":596},
{"g":"mesh","k":13,"x":453,"y":633},{"g":"mesh","k":13,"x":458,"y":620},{"g":"mesh","k":13,"x":461,"y":614},
{"g":"mesh","k":14,"x":498,"y":652},{"g":"mesh","k":14,"x":505,"y":636},{"g":"mesh","k":14,"x":516,"y":626},
{"g":"mesh","k":15,"x":543,"y":668},{"g":"mesh","k":15,"x":551,"y":650},{"g":"mesh","k":15,"x":570,"y":636},
{"g":"mesh","k":16,"x":594,"y":682},{"g":"mesh","k":16,"x":600,"y":663},{"g":"mesh","k":16,"x":626,"y":642},
{"g":"mesh","k":17,"x":640,"y":694},{"g":"mesh","k":17,"x":655,"y":663},{"g":"mesh","k":17,"x":684,"y":643},
{"g":"mesh","k":18,"x":689,"y":703},{"g":"mesh","k":18,"x":698,"y":680},{"g":"mesh","k":18,"x":706,"y":661},{"g":"mesh","k":18,"x":740,"y":641},
{"g":"mesh","k":19,"x":738,"y":708},{"g":"mesh","k":19,"x":767,"y":665},{"g":"mesh","k":19,"x":803,"y":632},
{"g":"mesh","k":20,"x":792,"y":713},{"g":"mesh","k":20,"x":817,"y":669},{"g":"mesh","k":20,"x":864,"y":622},
{"g":"mesh","k":21,"x":844,"y":715},{"g":"mesh","k":21,"x":871,"y":668},{"g":"mesh","k":21,"x":922,"y":605},
{"g":"mesh","k":22,"x":897,"y":712},{"g":"mesh","k":22,"x":925,"y":665},{"g":"mesh","k":22,"x":994,"y":585},
{"g":"thick","k":1,"x":570,"y":636},{"g":"thick","k":1,"x":619,"y":646},{"g":"thick","k":1,"x":666,"y":654},{"g":"thick","k":1,"x":706,"y":661},{"g":"thick","k":1,"x":767,"y":665},{"g":"thick","k":1,"x":817,"y":669},{"g":"thick","k":1,"x":871,"y":668},{"g":"thick","k":1,"x":925,"y":665},{"g":"thick","k":1,"x":976,"y":662},
{"g":"thick","k":2,"x":738,"y":641},{"g":"thick","k":2,"x":792,"y":641},{"g":"thick","k":2,"x":843,"y":640},{"g":"thick","k":2,"x":897,"y":636},{"g":"thick","k":2,"x":947,"y":635},{"g":"thick","k":2,"x":1001,"y":629},
{"g":"thick","k":3,"x":864,"y":622},{"g":"thick","k":3,"x":918,"y":616},{"g":"thick","k":3,"x":970,"y":609},{"g":"thick","k":3,"x":1023,"y":601},
{"g":"thick","k":4,"x":994,"y":585},{"g":"thick","k":4,"x":1048,"y":576},
{"g":"black","k":1,"x":217,"y":470},{"g":"black","k":1,"x":188,"y":470},{"g":"black","k":1,"x":177,"y":463},
{"g":"black","k":2,"x":188,"y":470},{"g":"black","k":2,"x":227,"y":500},{"g":"black","k":2,"x":265,"y":529},{"g":"black","k":2,"x":306,"y":557},{"g":"black","k":2,"x":342,"y":581},{"g":"black","k":2,"x":378,"y":602},{"g":"black","k":2,"x":414,"y":619},{"g":"black","k":2,"x":457,"y":637},{"g":"black","k":2,"x":504,"y":656},{"g":"black","k":2,"x":543,"y":669},{"g":"black","k":2,"x":594,"y":684},{"g":"black","k":2,"x":648,"y":696},{"g":"black","k":2,"x":702,"y":704},{"g":"black","k":2,"x":742,"y":709},{"g":"black","k":2,"x":796,"y":713},{"g":"black","k":2,"x":850,"y":715},{"g":"black","k":2,"x":893,"y":713},{"g":"black","k":2,"x":954,"y":709},{"g":"black","k":2,"x":958,"y":697},{"g":"black","k":2,"x":964,"y":677},
{"g":"black","k":3,"x":1022,"y":602},{"g":"black","k":3,"x":1048,"y":573},{"g":"black","k":3,"x":1069,"y":559},{"g":"black","k":3,"x":1089,"y":552},{"g":"black","k":3,"x":1107,"y":562},{"g":"black","k":3,"x":1116,"y":583},{"g":"black","k":3,"x":1121,"y":618},{"g":"black","k":3,"x":1123,"y":662},{"g":"black","k":3,"x":958,"y":697},
{"g":"black","k":4,"x":387,"y":705},{"g":"black","k":4,"x":442,"y":712},{"g":"black","k":4,"x":497,"y":717},{"g":"black","k":4,"x":550,"y":721},{"g":"black","k":4,"x":630,"y":723},{"g":"black","k":4,"x":706,"y":723},{"g":"black","k":4,"x":778,"y":718},{"g":"black","k":4,"x":821,"y":715}
],
"box":[
{"k":"back","x":607,"y":14,"x2":140,"y2":391},{"k":"back","x":607,"y":14,"x2":1313,"y2":199},{"k":"back","x":607,"y":14,"x2":614,"y2":172},{"k":"back","x":182,"y":665,"x2":340,"y2":541},{"k":"back","x":1277,"y":461,"x2":1150,"y2":410},
{"k":"front","x":140,"y":391,"x2":964,"y2":677},{"k":"front","x":964,"y":677,"x2":1313,"y2":199},{"k":"front","x":964,"y":677,"x2":948,"y2":950},{"k":"front","x":1313,"y":199,"x2":1277,"y2":461},
{"k":"axis","x":140,"y":391,"x2":182,"y2":665},{"k":"axis","x":182,"y":665,"x2":948,"y2":950},{"k":"axis","x":948,"y":950,"x2":1277,"y2":461},
{"k":"tick","x":143,"y":405,"x2":158,"y2":407},{"k":"tick","x":146,"y":424,"x2":155,"y2":426},{"k":"tick","x":149,"y":445,"x2":158,"y2":447},{"k":"tick","x":152,"y":467,"x2":161,"y2":469},{"k":"tick","x":156,"y":488,"x2":165,"y2":490},{"k":"tick","x":159,"y":511,"x2":174,"y2":513},{"k":"tick","x":162,"y":529,"x2":171,"y2":531},{"k":"tick","x":165,"y":548,"x2":174,"y2":550},{"k":"tick","x":168,"y":568,"x2":177,"y2":570},{"k":"tick","x":171,"y":587,"x2":180,"y2":589},{"k":"tick","x":174,"y":610,"x2":189,"y2":612},{"k":"tick","x":177,"y":628,"x2":186,"y2":630},{"k":"tick","x":180,"y":647,"x2":189,"y2":649},
{"k":"tick","x":198,"y":671,"x2":208,"y2":658},{"k":"tick","x":264,"y":696,"x2":269,"y2":690},{"k":"tick","x":331,"y":721,"x2":336,"y2":715},{"k":"tick","x":398,"y":746,"x2":403,"y2":740},{"k":"tick","x":465,"y":771,"x2":475,"y2":758},{"k":"tick","x":532,"y":796,"x2":537,"y2":790},{"k":"tick","x":600,"y":821,"x2":605,"y2":815},{"k":"tick","x":668,"y":846,"x2":673,"y2":840},{"k":"tick","x":736,"y":871,"x2":746,"y2":858},{"k":"tick","x":804,"y":896,"x2":809,"y2":890},{"k":"tick","x":872,"y":921,"x2":877,"y2":915},
{"k":"tick","x":1253,"y":485,"x2":1260,"y2":487},{"k":"tick","x":1233,"y":514,"x2":1242,"y2":517},{"k":"tick","x":1211,"y":545,"x2":1222,"y2":548},{"k":"tick","x":1184,"y":575,"x2":1199,"y2":579},{"k":"tick","x":1170,"y":609,"x2":1179,"y2":611},{"k":"tick","x":1148,"y":642,"x2":1158,"y2":644},{"k":"tick","x":1125,"y":676,"x2":1136,"y2":678},{"k":"tick","x":1101,"y":711,"x2":1112,"y2":715},{"k":"tick","x":1078,"y":745,"x2":1093,"y2":749},{"k":"tick","x":1055,"y":780,"x2":1064,"y2":782},{"k":"tick","x":1032,"y":815,"x2":1041,"y2":817},{"k":"tick","x":1009,"y":850,"x2":1018,"y2":852},{"k":"tick","x":985,"y":885,"x2":994,"y2":887},{"k":"tick","x":962,"y":922,"x2":977,"y2":926}
],
"labels":[
{"t":"−6100","x":83,"y":386},{"t":"−6200","x":100,"y":490},{"t":"−6300","x":114,"y":591},{"t":"W","x":33,"y":482},{"t":"0.00","x":154,"y":701},{"t":"0.02","x":428,"y":808},{"t":"0.04","x":728,"y":925},{"t":"a","x":486,"y":883},{"t":"b","x":1208,"y":716},{"t":"0","x":978,"y":965},{"t":"5","x":1109,"y":764},{"t":"10","x":1232,"y":589}
],
"bar":[{"W":-6357,"W2":-6100}]
},
"hconcat":[
{
"width":1952,
"height":1407,
"encoding":{
"x":{"field":"x","type":"quantitative","axis":null,"scale":{"domain":[0,1377.3],"nice":false,"zero":false}},
"y":{"field":"y","type":"quantitative","axis":null,"scale":{"domain":[993,0],"nice":false,"zero":false}}
},
"layer":[
{"data":{"name":"box"},"transform":[{"filter":"datum.k=='back'"}],"mark":{"type":"rule","color":"#808080","strokeWidth":3},"encoding":{"x2":{"field":"x2"},"y2":{"field":"y2"}}},
{"data":{"name":"parts"},"transform":[{"filter":"datum.p=='floor'"}],"mark":{"type":"line","order":null,"interpolate":"linear-closed","stroke":null,"fill":"#cfcfcf"},"encoding":{}},
{"data":{"name":"parts"},"transform":[{"filter":"datum.p=='s1'"}],"mark":{"type":"line","order":null,"interpolate":"linear-closed","stroke":null,"fill":{"gradient":"linear","x1":0,"y1":0,"x2":0,"y2":1,"stops":[{"offset":0,"color":"#d8c84a"},{"offset":1,"color":"#4e5a3a"}]}},"encoding":{}},
{"data":{"name":"parts"},"transform":[{"filter":"datum.p=='s2'"}],"mark":{"type":"line","order":null,"interpolate":"linear-closed","stroke":null,"fill":{"gradient":"linear","x1":0,"y1":0,"x2":0,"y2":1,"stops":[{"offset":0,"color":"#5c6a3a"},{"offset":1,"color":"#3a4a42"}]}},"encoding":{}},
{"data":{"name":"parts"},"transform":[{"filter":"datum.p=='s3'"}],"mark":{"type":"line","order":null,"interpolate":"linear-closed","stroke":null,"fill":{"gradient":"linear","x1":0,"y1":0,"x2":0,"y2":1,"stops":[{"offset":0,"color":"#4a5a3c"},{"offset":1,"color":"#3f4048"}]}},"encoding":{}},
{"data":{"name":"parts"},"transform":[{"filter":"datum.p=='s4'"}],"mark":{"type":"line","order":null,"interpolate":"linear-closed","stroke":null,"fill":{"gradient":"linear","x1":0,"y1":0,"x2":0,"y2":1,"stops":[{"offset":0,"color":"#3f5a40"},{"offset":1,"color":"#3a2248"}]}},"encoding":{}},
{"data":{"name":"parts"},"transform":[{"filter":"datum.p=='s5'"}],"mark":{"type":"line","order":null,"interpolate":"linear-closed","stroke":null,"fill":{"gradient":"linear","x1":0,"y1":0,"x2":0,"y2":1,"stops":[{"offset":0,"color":"#3f5238"},{"offset":1,"color":"#381e48"}]}},"encoding":{}},
{"data":{"name":"parts"},"transform":[{"filter":"datum.p=='s6'"}],"mark":{"type":"line","order":null,"interpolate":"linear-closed","stroke":null,"fill":{"gradient":"linear","x1":0,"y1":0,"x2":0,"y2":1,"stops":[{"offset":0,"color":"#4c5230"},{"offset":1,"color":"#3a1c4c"}]}},"encoding":{}},
{"data":{"name":"parts"},"transform":[{"filter":"datum.p=='s7'"}],"mark":{"type":"line","order":null,"interpolate":"linear-closed","stroke":null,"fill":{"gradient":"linear","x1":0,"y1":0,"x2":0,"y2":1,"stops":[{"offset":0,"color":"#5a5424"},{"offset":1,"color":"#3c1a4c"}]}},"encoding":{}},
{"data":{"name":"parts"},"transform":[{"filter":"datum.p=='s8'"}],"mark":{"type":"line","order":null,"interpolate":"linear-closed","stroke":null,"fill":{"gradient":"linear","x1":0,"y1":0,"x2":0,"y2":1,"stops":[{"offset":0,"color":"#604218"},{"offset":1,"color":"#3c1450"}]}},"encoding":{}},
{"data":{"name":"parts"},"transform":[{"filter":"datum.p=='s9'"}],"mark":{"type":"line","order":null,"interpolate":"linear-closed","stroke":null,"fill":{"gradient":"linear","x1":0,"y1":0,"x2":0,"y2":1,"stops":[{"offset":0,"color":"#6a3012"},{"offset":0.6,"color":"#4a1a40"},{"offset":1,"color":"#4c1270"}]}},"encoding":{}},
{"data":{"name":"parts"},"transform":[{"filter":"datum.p=='pale'"}],"mark":{"type":"line","order":null,"interpolate":"linear-closed","stroke":null,"fill":{"gradient":"linear","x1":0,"y1":0,"x2":1,"y2":0,"stops":[{"offset":0,"color":"rgba(176,204,168,0)"},{"offset":0.5,"color":"rgba(176,204,168,0.9)"},{"offset":1,"color":"rgba(176,204,168,0)"}]}},"encoding":{}},
{"data":{"name":"lines"},"transform":[{"filter":"datum.g=='paleline'"}],"mark":{"type":"line","order":null,"strokeWidth":3,"stroke":{"gradient":"linear","x1":0,"y1":0,"x2":0,"y2":1,"stops":[{"offset":0,"color":"#e8d860"},{"offset":1,"color":"#7a3a8a"}]}},"encoding":{"detail":{"field":"k","type":"nominal"}}},
{"data":{"name":"lines"},"transform":[{"filter":"datum.g=='hotline'"}],"mark":{"type":"line","order":null,"strokeWidth":3,"stroke":{"gradient":"linear","x1":0,"y1":0,"x2":0,"y2":1,"stops":[{"offset":0,"color":"#f08a3a"},{"offset":1,"color":"#8a2a9a"}]}},"encoding":{"detail":{"field":"k","type":"nominal"}}},
{"data":{"name":"top"},"transform":[{"flatten":["q"]},{"lookup":"q","from":{"data":{"name":"top"},"key":"id","fields":["x","y"]},"as":["x","y"]}],"mark":{"type":"line","order":null,"interpolate":"linear-closed","strokeWidth":1},"encoding":{"detail":{"field":"id","type":"nominal"},"fill":{"field":"W","type":"quantitative","legend":null,"scale":{"domain":[-6350,-6300,-6275,-6255,-6240,-6225,-6212,-6197,-6178,-6162,-6145,-6128,-6110,-6100],"range":["#4a1678","#3f6ccc","#62b7cc","#6cc0b4","#78c69a","#86cf86","#9cc660","#aebc50","#c0a83e","#c69030","#c67a2c","#c0561f","#bc2d1c","#b81c18"]}},"stroke":{"field":"W","type":"quantitative","legend":null,"scale":{"domain":[-6350,-6300,-6275,-6255,-6240,-6225,-6212,-6197,-6178,-6162,-6145,-6128,-6110,-6100],"range":["#4a1678","#3f6ccc","#62b7cc","#6cc0b4","#78c69a","#86cf86","#9cc660","#aebc50","#c0a83e","#c69030","#c67a2c","#c0561f","#bc2d1c","#b81c18"]}}}},
{"data":{"name":"parts"},"transform":[{"filter":"datum.p=='notch'"}],"mark":{"type":"line","order":null,"interpolate":"linear-closed","stroke":null,"fill":"#4a4520"},"encoding":{}},
{"data":{"name":"parts"},"transform":[{"filter":"datum.p=='tip'"}],"mark":{"type":"line","order":null,"interpolate":"linear-closed","stroke":null,"fill":{"gradient":"linear","x1":0,"y1":0,"x2":1,"y2":0,"stops":[{"offset":0,"color":"#f8d848"},{"offset":0.45,"color":"#eeea60"},{"offset":1,"color":"#b4dc68"}]}},"encoding":{}},
{"data":{"name":"parts"},"transform":[{"filter":"test(/^fang/,datum.p)"}],"mark":{"type":"line","order":null,"interpolate":"linear-closed","stroke":null,"fill":{"gradient":"linear","x1":0,"y1":0,"x2":0,"y2":1,"stops":[{"offset":0,"color":"#33503e"},{"offset":0.5,"color":"#3a3650"},{"offset":1,"color":"#3c0f5c"}]}},"encoding":{"detail":{"field":"p","type":"nominal"}}},
{"data":{"name":"parts"},"transform":[{"filter":"datum.p=='front'"}],"mark":{"type":"line","order":null,"interpolate":"linear-closed","stroke":null,"fill":{"gradient":"linear","x1":0,"y1":0,"x2":0,"y2":1,"stops":[{"offset":0,"color":"#1e4f55"},{"offset":0.45,"color":"#1f3c6a"},{"offset":0.72,"color":"#23226f"},{"offset":1,"color":"#3d0f58"}]}},"encoding":{}},
{"data":{"name":"parts"},"transform":[{"filter":"datum.p=='hill'"}],"mark":{"type":"line","order":null,"interpolate":"linear-closed","stroke":null,"fill":{"gradient":"linear","x1":0,"y1":0,"x2":0,"y2":1,"stops":[{"offset":0,"color":"#5c6a30"},{"offset":0.3,"color":"#3a6a60"},{"offset":0.62,"color":"#2a2f8a"},{"offset":1,"color":"#4a1270"}]}},"encoding":{}},
{"data":{"name":"lip"},"transform":[{"flatten":["q"]},{"lookup":"q","from":{"data":{"name":"lip"},"key":"id","fields":["x","y"]},"as":["x","y"]}],"mark":{"type":"line","order":null,"interpolate":"linear-closed","strokeWidth":1},"encoding":{"detail":{"field":"id","type":"nominal"},"fill":{"field":"W","type":"quantitative","legend":null},"stroke":{"field":"W","type":"quantitative","legend":null}}},
{"data":{"name":"lines"},"transform":[{"filter":"datum.g=='drop'||datum.g=='mesh'"}],"mark":{"type":"line","order":null,"color":"#3c3c3c","strokeWidth":2},"encoding":{"detail":{"field":"k","type":"nominal"}}},
{"data":{"name":"top"},"transform":[{"filter":"datum.c>=1&&datum.c<=15"}],"mark":{"type":"line","order":null,"interpolate":"catmull-rom","color":"#3c3c3c","strokeWidth":2},"encoding":{"detail":{"field":"c","type":"nominal"}}},
{"data":{"name":"top"},"transform":[{"filter":"datum.r>=1"}],"mark":{"type":"line","order":null,"interpolate":"catmull-rom","color":"#3a3a3a","strokeWidth":3.2},"encoding":{"detail":{"field":"r","type":"nominal"}}},
{"data":{"name":"lines"},"transform":[{"filter":"datum.g=='thick'"}],"mark":{"type":"line","order":null,"interpolate":"catmull-rom","color":"#3a3a3a","strokeWidth":3.2},"encoding":{"detail":{"field":"k","type":"nominal"}}},
{"data":{"name":"top"},"transform":[{"filter":"datum.r==0"}],"mark":{"type":"line","order":null,"interpolate":"catmull-rom","color":"#111111","strokeWidth":3},"encoding":{}},
{"data":{"name":"top"},"transform":[{"filter":"datum.c==0"}],"mark":{"type":"line","order":null,"interpolate":"catmull-rom","color":"#111111","strokeWidth":3},"encoding":{}},
{"data":{"name":"lines"},"transform":[{"filter":"datum.g=='black'"}],"mark":{"type":"line","order":null,"color":"#111111","strokeWidth":3},"encoding":{"detail":{"field":"k","type":"nominal"}}},
{"data":{"name":"box"},"transform":[{"filter":"datum.k=='front'"}],"mark":{"type":"rule","color":"#777777","strokeWidth":3},"encoding":{"x2":{"field":"x2"},"y2":{"field":"y2"}}},
{"data":{"name":"box"},"transform":[{"filter":"datum.k=='axis'"}],"mark":{"type":"rule","color":"#454545","strokeWidth":2.6},"encoding":{"x2":{"field":"x2"},"y2":{"field":"y2"}}},
{"data":{"name":"box"},"transform":[{"filter":"datum.k=='tick'"}],"mark":{"type":"rule","color":"#454545","strokeWidth":1.6},"encoding":{"x2":{"field":"x2"},"y2":{"field":"y2"}}},
{"data":{"name":"labels"},"mark":{"type":"text","fontSize":46,"font":"Liberation Sans","color":"#222222","align":"center","baseline":"middle"},"encoding":{"text":{"field":"t","type":"nominal"}}}
]
},
{
"width":70,
"height":1407,
"data":{"name":"bar"},
"mark":{"type":"rect","stroke":"#555555","strokeWidth":1,"strokeOpacity":0.6,"fill":{"gradient":"linear","x1":0,"y1":0,"x2":0,"y2":1,"stops":[{"offset":0,"color":"#dc2020"},{"offset":0.097,"color":"#e2502a"},{"offset":0.117,"color":"#e8702f"},{"offset":0.195,"color":"#e59535"},{"offset":0.272,"color":"#d9aa3c"},{"offset":0.311,"color":"#c9b642"},{"offset":0.389,"color":"#b3bf4f"},{"offset":0.428,"color":"#9dbc58"},{"offset":0.486,"color":"#8bbb6a"},{"offset":0.584,"color":"#67ae92"},{"offset":0.661,"color":"#539db0"},{"offset":0.72,"color":"#4588c5"},{"offset":0.778,"color":"#3f6ccc"},{"offset":0.875,"color":"#4037c0"},{"offset":0.934,"color":"#4a1fa0"},{"offset":1,"color":"#761a85"}]}},
"encoding":{
"y":{"field":"W","type":"quantitative","scale":{"domain":[-6357,-6100],"range":[1181,175],"nice":false,"zero":false},"axis":{"title":null,"orient":"right","format":"d","values":[-6350,-6340,-6330,-6320,-6310,-6300,-6290,-6280,-6270,-6260,-6250,-6240,-6230,-6220,-6210,-6200,-6190,-6180,-6170,-6160,-6150,-6140,-6130,-6120,-6110,-6100],"labelExpr":"datum.value%50==0?datum.label:''","labelFont":"Liberation Sans","labelFontSize":47,"labelColor":"#666666","labelPadding":18,"labelOverlap":false,"domain":false,"grid":false,"tickColor":"#cccccc","tickSize":{"condition":{"test":"datum.value%50==0","value":20},"value":13}}},
"y2":{"field":"W2"}
}
}
]
}
